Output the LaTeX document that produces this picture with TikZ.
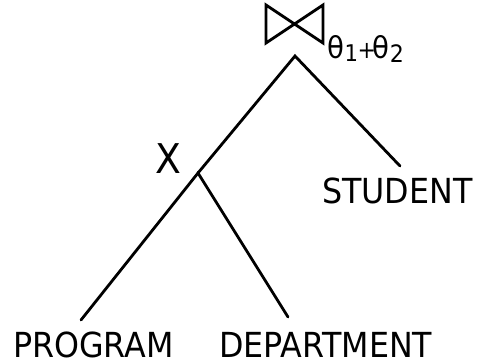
\documentclass[tikz,border=0pt]{standalone}
\usepackage{fontspec}
\setmainfont{DejaVu Sans}[FakeStretch=0.92]
\begin{document}
\begin{tikzpicture}[x=1pt,y=-1pt,
  edge/.style={line width=2.8pt,line cap=round},
  lbl/.style={anchor=base west,inner sep=0pt,font=\fontsize{34.5}{36}\selectfont},
]
\useasboundingbox (0,0) rectangle (481,362);
% bowtie (join symbol)
\draw[line width=2.8pt,line join=miter] (266,5) -- (323,43) -- (323,5) -- (266,43) -- cycle;
\node[anchor=base west,inner sep=0pt] (theta) at (327,58)
  {\fontsize{30}{32}\selectfont θ\kern0.5pt\raisebox{-3pt}{\fontsize{23}{24}\selectfont 1}\kern-0.5pt{\fontsize{24}{24}\selectfont+}\kern-4pt θ\kern1pt\raisebox{-4pt}{\fontsize{24}{24}\selectfont 2}};
\node[lbl,font=\fontsize{41}{42}\selectfont] (x) at (155,173) {X};
\node[lbl] (student) at (322,203) {STUDENT};
\node[lbl] (program) at (13,357) {PROGRAM};
\node[lbl] (department) at (219,357) {DEPARTMENT};
% tree
\coordinate (apex) at (295,56);
\coordinate (junc) at (198,173);
\coordinate (stu) at (400,166);
\coordinate (prog) at (81,320);
\coordinate (dept) at (288,317);
\draw[edge] (junc) -- (apex) -- (stu);
\draw[edge] (prog) -- (junc) -- (dept);
\end{tikzpicture}
\end{document}
